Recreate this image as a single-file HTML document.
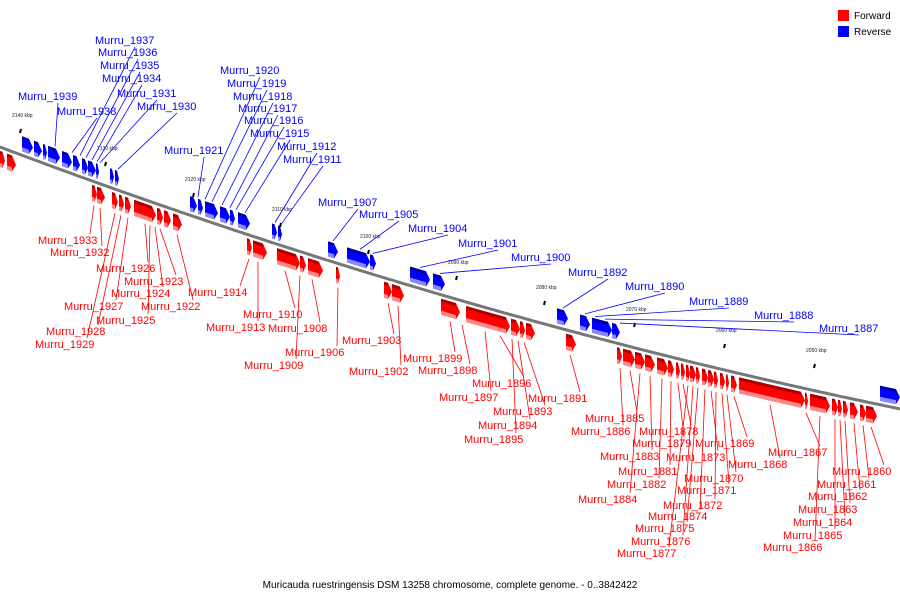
<!DOCTYPE html>
<html><head><meta charset="utf-8"><style>
body{margin:0;background:#fff}
svg{display:block}
text{font-family:"Liberation Sans",sans-serif}
</style></head><body>
<svg id="chart" width="900" height="600" viewBox="0 0 900 600">
<rect width="900" height="600" fill="#fff"/>
<g id="ticks"></g>
<path id="axis" fill="none" stroke="#777" stroke-width="3"/>
<g id="leaders"></g>
<g id="genes"></g>
<g id="labels"></g>
<g>
<rect x="838" y="10" width="11" height="11" fill="#f00"/>
<text x="854" y="19" font-size="10">Forward</text>
<rect x="838" y="26" width="11" height="11" fill="#00f"/>
<text x="854" y="35" font-size="10">Reverse</text>
</g>
<text x="450" y="588" font-size="10" text-anchor="middle" font-family="Liberation Mono, monospace">Muricauda ruestringensis DSM 13258 chromosome, complete genome. - 0..3842422</text>
</svg>
<script>
const tickKbp=[2140,2130,2120,2110,2100,2090,2080,2070,2060,2050];
const tickX=[12,97,185,272,360,448,536,626,716,806];
const tickY=[117,150,181,211,238,264,289,311,332,352];
const fwdStart=[0,7,92,97,112,119,125,134,157,164,173,247,253,277,300,308,336,384,392,441,466,511,520,526,566,617,623,635,645,657,668,676,681,686,690,696,702,708,714,720,726,731,739,805,810,832,838,843,850,860,866];
const fwdEnd=[5,16,97,105,118,124,131,156,163,171,182,252,267,300,306,323,340,392,404,460,510,520,525,535,576,622,635,645,655,668,674,680,685,690,696,700,708,714,718,725,729,737,805,808,830,838,842,848,858,866,877];
const revStart=[22,34,43,48,62,73,82,88,96,110,115,190,198,205,220,230,238,272,278,328,347,370,410,433,557,580,592,612,880];
const revEnd=[33,42,47,60,72,80,88,96,99,114,119,197,203,218,230,235,250,277,282,338,370,376,430,445,568,590,612,620,900];
const revNames=["Murru_1939","Murru_1938","Murru_1937","Murru_1936","Murru_1935","Murru_1934","Murru_1931","Murru_1930","Murru_1921","Murru_1920","Murru_1919","Murru_1918","Murru_1917","Murru_1916","Murru_1915","Murru_1912","Murru_1911","Murru_1907","Murru_1905","Murru_1904","Murru_1901","Murru_1900","Murru_1892","Murru_1890","Murru_1889","Murru_1888","Murru_1887"];
const revLX=[18,57,95,98,100,102,117,137,164,220,227,233,238,244,250,277,283,318,359,408,458,511,568,625,689,754,819];
const revLY=[96,111,40,52,65,78,93,106,150,70,83,96,108,120,133,146,159,202,214,228,243,257,272,286,301,315,328];
const revTarget=[55,72,80,86,92,97,100,118,198,205,212,222,230,236,245,275,281,333,360,373,420,440,563,585,595,605,620];
const fwdNames=["Murru_1933","Murru_1932","Murru_1926","Murru_1923","Murru_1924","Murru_1922","Murru_1927","Murru_1925","Murru_1928","Murru_1929","Murru_1914","Murru_1910","Murru_1913","Murru_1908","Murru_1906","Murru_1909","Murru_1903","Murru_1902","Murru_1899","Murru_1898","Murru_1896","Murru_1897","Murru_1893","Murru_1894","Murru_1895","Murru_1891","Murru_1885","Murru_1886","Murru_1878","Murru_1879","Murru_1869","Murru_1883","Murru_1873","Murru_1868","Murru_1881","Murru_1870","Murru_1882","Murru_1871","Murru_1884","Murru_1872","Murru_1874","Murru_1875","Murru_1876","Murru_1877","Murru_1867","Murru_1860","Murru_1861","Murru_1862","Murru_1863","Murru_1864","Murru_1865","Murru_1866"];
const fwdLX=[38,50,96,124,111,141,64,96,46,35,188,243,206,268,285,244,342,349,403,418,472,439,493,478,464,528,585,571,639,632,695,600,666,728,618,684,607,677,578,663,648,635,631,617,768,832,817,808,798,793,783,763];
const fwdLY=[240,252,268,281,293,306,306,320,331,344,292,314,327,328,352,365,340,371,358,370,383,397,411,425,439,398,418,431,431,443,443,456,457,464,471,478,484,490,499,505,516,528,541,553,452,471,484,496,509,522,535,547];
const fwdTarget=[94,100,145,160,155,177,128,150,121,115,249,285,258,312,338,300,388,398,450,462,500,485,524,518,512,570,630,620,683,678,734,650,711,770,671,727,662,722,640,716,705,698,693,688,806,871,863,854,845,840,835,820];

const NS='http://www.w3.org/2000/svg';
function cy(x){return 147+0.3772*x-9.58e-5*x*x;}
function slope(x){return 0.3772-2*9.58e-5*x;}
function mk(tag,attrs,parent){const e=document.createElementNS(NS,tag);for(const k in attrs)e.setAttribute(k,attrs[k]);parent.appendChild(e);return e;}
let d='M -5 '+cy(-5).toFixed(1);
for(let x=0;x<=905;x+=5)d+=' L '+x+' '+cy(x).toFixed(1);
document.getElementById('axis').setAttribute('d',d);

const tg=document.getElementById('ticks');
tickKbp.forEach((k,i)=>{
  const t=mk('text',{x:tickX[i],y:tickY[i],'font-size':5,fill:'#222'},tg);
  
  
  t.textContent=k+' kbp';
  const m=mk('line',{x1:tickX[i]+8,y1:tickY[i]+16,x2:tickX[i]+9,y2:tickY[i]+12,stroke:'#000','stroke-width':2},tg);
  
  
});

const gg=document.getElementById('genes');
function pt(x,off){return [x,cy(x)+off];}
function gene(x1,x2,fwd,idx){
  const o1=fwd?4:-19, o2=fwd?20:-4;
  const tip=Math.min(4,(x2-x1)/2);
  const g=mk('g',{},gg);
  
  
  const pA=pt(x1,o1),pB=pt(x2-tip,o1),pC=pt(x2,(o1+o2)/2),pD=pt(x2-tip,o2),pE=pt(x1,o2);
  const pts=[pA,pB,pC,pD,pE].map(p=>p[0].toFixed(1)+','+p[1].toFixed(1)).join(' ');
  mk('polygon',{points:pts,fill:fwd?'#f00':'#00f'},g);
  const top=[pt(x1,o1),pt(x2-tip,o1),pt(x2-tip,o1+3),pt(x1,o1+3)].map(p=>p[0].toFixed(1)+','+p[1].toFixed(1)).join(' ');
  mk('polygon',{points:top,fill:fwd?'#a00':'#00a'},g);
  const bot=[pt(x1,o2-4),pt(x2-tip,o2-4),pt(x2-tip,o2),pt(x1,o2)].map(p=>p[0].toFixed(1)+','+p[1].toFixed(1)).join(' ');
  mk('polygon',{points:bot,fill:fwd?'#f88':'#88f'},g);
}
fwdStart.forEach((s,i)=>gene(s,fwdEnd[i],true,i));
revStart.forEach((s,i)=>gene(s,revEnd[i],false,i));

const lg=document.getElementById('labels'),ll=document.getElementById('leaders');
revNames.forEach((n,i)=>{
  const t=mk('text',{x:revLX[i],y:revLY[i]+4,'font-size':11,fill:'#00f'},lg);
  
  
  t.textContent=n;
  const tx=revTarget[i];
  const l=mk('line',{x1:revLX[i]+40,y1:revLY[i]+7,x2:tx,y2:cy(tx)-21,stroke:'#00f','stroke-width':0.8},ll);
  
  
});
fwdNames.forEach((n,i)=>{
  const t=mk('text',{x:fwdLX[i],y:fwdLY[i]+4,'font-size':11,fill:'#f00'},lg);
  
  
  t.textContent=n;
  const tx=fwdTarget[i];
  const l=mk('line',{x1:fwdLX[i]+52,y1:fwdLY[i]-6,x2:tx,y2:cy(tx)+24,stroke:'#f00','stroke-width':0.8},ll);
  
  
});
</script>
</body></html>
